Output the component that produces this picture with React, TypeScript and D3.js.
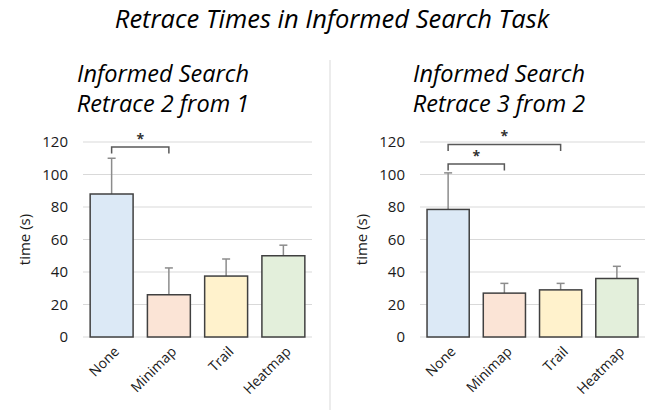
import React from "react";
import * as d3 from "d3";

const categories = ["None", "Minimap", "Trail", "Heatmap"];
const fills = ["#dce9f6", "#fbe4d6", "#fff2cc", "#e3efdb"];
const yTicks = [0, 20, 40, 60, 80, 100, 120];

const panelTitles = [
  ["Informed Search", "Retrace 2 from 1"],
  ["Informed Search", "Retrace 3 from 2"],
];
const meansA = [88, 26, 37.5, 50];
const errTopA = [110, 42.5, 48, 56.5];
const meansB = [78.5, 27, 29, 36];
const errTopB = [101, 33, 33, 43.5];

// significance brackets: [from, to, level]
const bracketsA: [string, string, number][] = [["None", "Minimap", 117]];
const bracketsB: [string, string, number][] = [
  ["None", "Trail", 118.5],
  ["None", "Minimap", 106.5],
];

const W = 651;
const H = 410;
const FONT = "'Open Sans', sans-serif";

type PanelProps = {
  x0: number;
  x1: number;
  titles: string[];
  titleX: number;
  means: number[];
  errTop: number[];
  brackets: [string, string, number][];
  axisLabelX: number;
};

function Panel({ x0, x1, titles, titleX, means, errTop, brackets, axisLabelX }: PanelProps) {
  const y = d3.scaleLinear().domain([0, 120]).range([337, 142]);
  const x = d3
    .scaleBand<string>()
    .domain(categories)
    .range([x0, x1])
    .paddingInner(0.25)
    .paddingOuter(0.125);
  const bw = x.bandwidth();
  const cx = (c: string) => (x(c) as number) + bw / 2;
  const tick = 4;
  return (
    <g>
      {titles.map((t, i) => (
        <text
          key={t}
          x={titleX}
          y={82 + i * 30}
          textAnchor="middle"
          fontFamily={FONT}
          fontStyle="italic"
          fontSize={23.5}
          fill="#000"
        >
          {t}
        </text>
      ))}
      {yTicks.map((t) => (
        <g key={t}>
          <line x1={x0} x2={x1} y1={y(t)} y2={y(t)} stroke="#d9d9d9" strokeWidth={1} />
          <text
            x={x0 - 15}
            y={y(t)}
            dy="0.35em"
            textAnchor="end"
            fontFamily={FONT}
            fontSize={15}
            fill="#1a1a1a"
          >
            {t}
          </text>
        </g>
      ))}
      <text
        transform={`translate(${axisLabelX},${y(60)}) rotate(-90)`}
        textAnchor="middle"
        dy="0.35em"
        fontFamily={FONT}
        fontSize={15}
        fill="#1a1a1a"
      >
        time (s)
      </text>
      {categories.map((c, i) => (
        <g key={c}>
          <line
            x1={cx(c)}
            x2={cx(c)}
            y1={y(means[i])}
            y2={y(errTop[i])}
            stroke="#8c8c8c"
            strokeWidth={1.5}
          />
          <line
            x1={cx(c) - 4}
            x2={cx(c) + 4}
            y1={y(errTop[i])}
            y2={y(errTop[i])}
            stroke="#8c8c8c"
            strokeWidth={1.5}
          />
          <rect
            x={x(c)}
            y={y(means[i])}
            width={bw}
            height={y(0) - y(means[i])}
            fill={fills[i]}
            stroke="#404040"
            strokeWidth={1.5}
          />
          <text
            transform={`translate(${cx(c) + 5},${y(0) + 12}) rotate(-45)`}
            textAnchor="end"
            dy="0.35em"
            fontFamily={FONT}
            fontSize={14}
            fill="#1a1a1a"
          >
            {c}
          </text>
        </g>
      ))}
      {brackets.map(([a, b, lv], i) => {
        const xa = cx(a);
        const xb = cx(b);
        const yy = y(lv);
        return (
          <g key={i}>
            <path
              d={`M${xa},${yy + tick * 1.625}V${yy}H${xb}V${yy + tick * 1.625}`}
              fill="none"
              stroke="#595959"
              strokeWidth={1.5}
            />
            <text
              x={(xa + xb) / 2}
              y={yy - 3}
              textAnchor="middle"
              fontFamily={FONT}
              fontSize={14}
              fontWeight="bold"
              fill="#333"
            >
              *
            </text>
          </g>
        );
      })}
    </g>
  );
}

export default function App() {
  return (
    <svg
      width={W}
      height={H}
      style={{ position: "absolute", left: 0, top: 0, background: "#fff" }}
    >
      <rect width={W} height={H} fill="#fff" />
      <text
        x={332}
        y={28}
        textAnchor="middle"
        fontFamily={FONT}
        fontStyle="italic"
        fontSize={25.5}
        fill="#000"
      >
        Retrace Times in Informed Search Task
      </text>
      <line x1={330} x2={330} y1={60} y2={410} stroke="#d9d9d9" strokeWidth={1} />
      <Panel
        x0={83}
        x1={312}
        titles={panelTitles[0]}
        titleX={163}
        means={meansA}
        errTop={errTopA}
        brackets={bracketsA}
        axisLabelX={25}
      />
      <Panel
        x0={420}
        x1={645}
        titles={panelTitles[1]}
        titleX={499}
        means={meansB}
        errTop={errTopB}
        brackets={bracketsB}
        axisLabelX={362}
      />
    </svg>
  );
}
